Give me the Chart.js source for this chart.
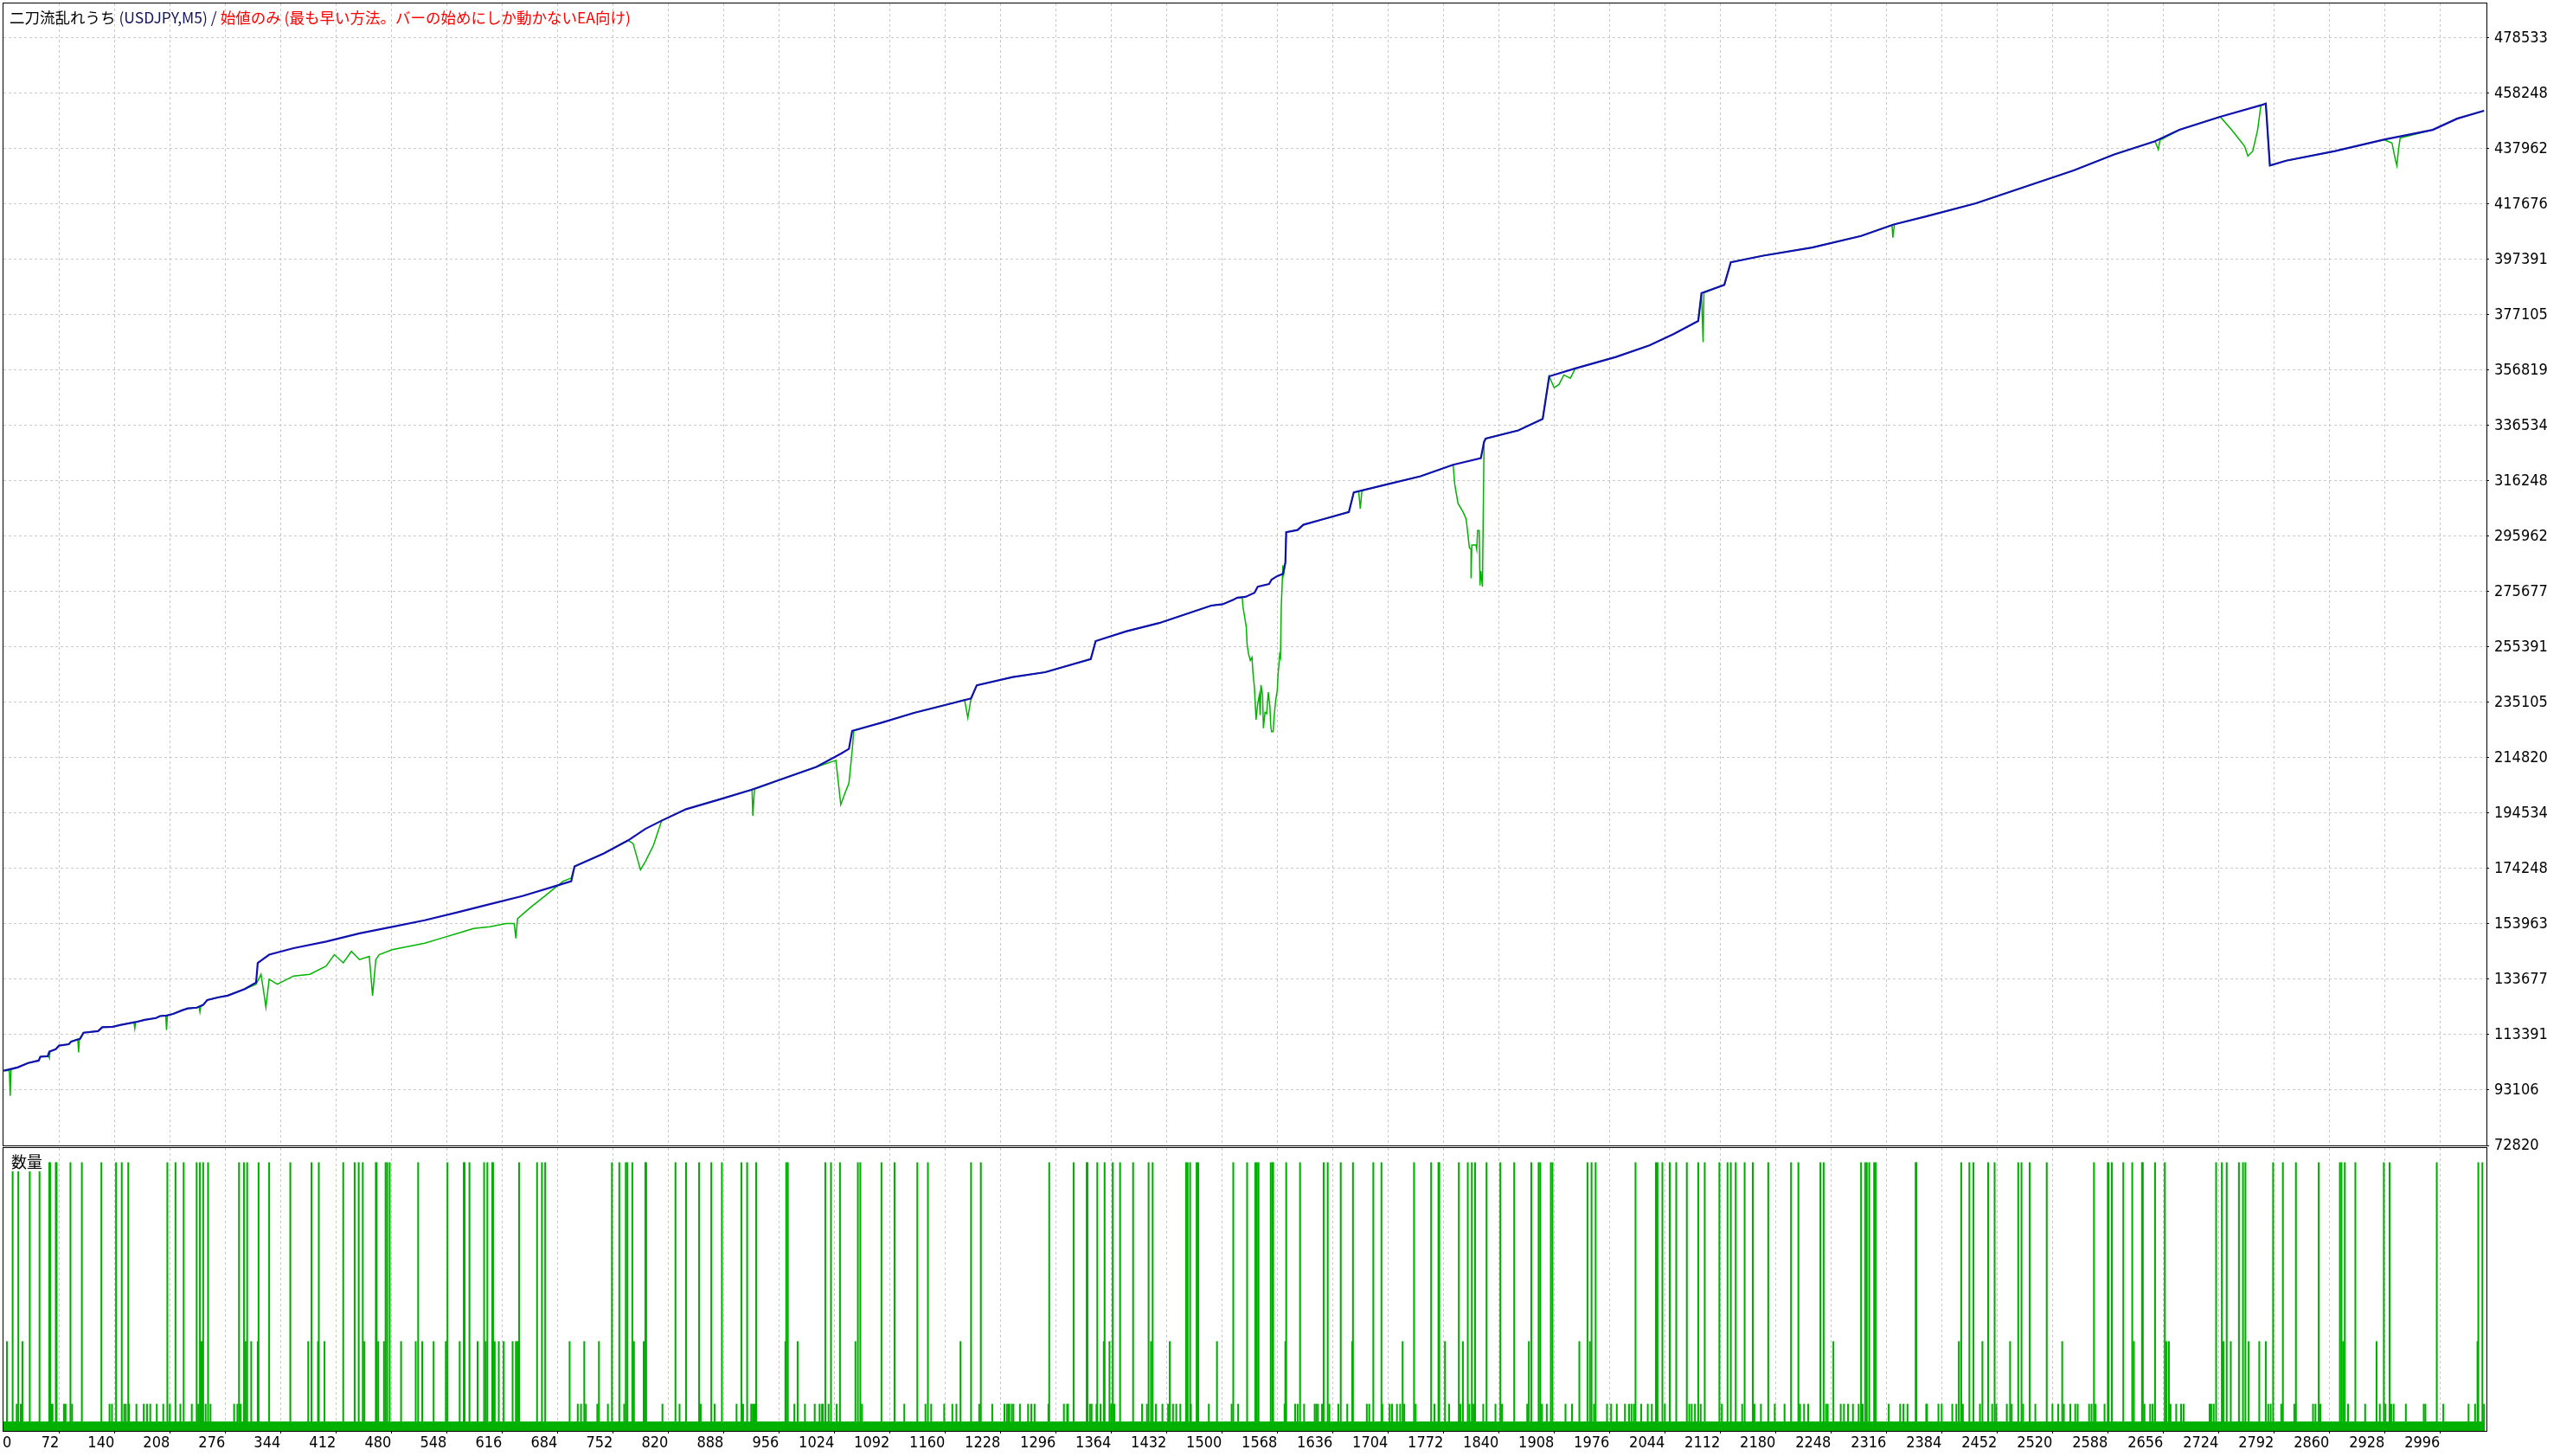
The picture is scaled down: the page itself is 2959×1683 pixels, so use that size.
<!DOCTYPE html>
<html><head><meta charset="utf-8">
<script src="https://cdn.jsdelivr.net/npm/chart.js@4.4.0/dist/chart.umd.min.js"></script>
<style>
html,body{margin:0;padding:0;background:#fff;}
#wrap{position:relative;width:2959px;height:1683px;overflow:hidden;background:#fff;}
canvas{position:absolute;left:0;top:0;}
#title{position:absolute;left:11px;top:10px;font-family:"Noto Sans CJK JP";font-size:17.5px;line-height:20px;white-space:nowrap;color:#000;}
#title .n{color:#14145a;} #title .r{color:#ff0000;}
#vlabel{position:absolute;left:13px;top:1332px;font-family:"Noto Sans CJK JP";font-size:18px;line-height:20px;color:#000;}
</style></head>
<body><div id="wrap">
<canvas id="main" width="2959" height="1683"></canvas>
<canvas id="vol" width="2959" height="1683"></canvas>
<div id="title">二刀流乱れうち <span class="n">(USDJPY,M5) /</span> <span class="r">始値のみ (最も早い方法。バーの始めにしか動かないEA向け)</span></div>
<div id="vlabel">数量</div>
</div>
<script>
// ---------------- data ----------------
const yTickLabels = ['72820','93106','113391','133677','153963','174248','194534','214820','235105','255391','275677','295962','316248','336534','356819','377105','397391','417676','437962','458248','478533'];
const xTickLabels = ['0','72','140','208','276','344','412','480','548','616','684','752','820','888','956','1024','1092','1160','1228','1296','1364','1432','1500','1568','1636','1704','1772','1840','1908','1976','2044','2112','2180','2248','2316','2384','2452','2520','2588','2656','2724','2792','2860','2928','2996'];

// balance: [trade no., balance]
const balanceSeries = [[4,100200],[21,101400],[34,103000],[47,103900],[49,105300],[58,105500],[60,107200],[68,108100],[72,109400],[84,109900],[87,110900],[98,111900],[102,114100],[120,114700],[125,116100],[138,116300],[148,117000],[166,118000],[177,118800],[191,119500],[196,120200],[204,120400],[212,121000],[223,122300],[230,123000],[241,123300],[249,124300],[254,126100],[268,127100],[279,127700],[300,130100],[314,132500],[316,139700],[330,142700],[360,145100],[400,147500],[441,150500],[481,152900],[521,155300],[561,158200],[601,161200],[641,164200],[681,167800],[701,169600],[705,175000],[741,179800],[771,184600],[792,188800],[812,191800],[842,196000],[882,199500],[922,203100],[962,207300],[1002,211500],[1032,216300],[1042,218100],[1046,224700],[1082,227700],[1122,231300],[1162,234300],[1192,236600],[1199,241400],[1243,244400],[1283,246200],[1339,251000],[1345,257600],[1383,261200],[1423,264200],[1487,270600],[1501,271100],[1514,272700],[1519,273500],[1529,273800],[1540,275300],[1544,277500],[1558,278500],[1561,280100],[1568,281400],[1575,282200],[1578,286400],[1579,297500],[1593,298300],[1600,300200],[1625,302300],[1656,304900],[1662,312100],[1704,315100],[1744,318000],[1784,322200],[1818,324600],[1822,330600],[1824,331800],[1864,334800],[1894,339000],[1902,354600],[1934,357500],[1984,361700],[2025,365900],[2055,370100],[2085,374900],[2089,385100],[2117,388100],[2125,396400],[2165,398800],[2225,401800],[2285,406000],[2325,410200],[2365,413200],[2426,418000],[2486,424000],[2546,430000],[2596,435900],[2646,440700],[2676,444900],[2726,449700],[2776,453900],[2782,454500],[2787,431800],[2807,433600],[2867,437100],[2927,441300],[2987,444900],[3017,449000],[3050,451900]];

// equity: [trade no., equity]
const equitySeries = [[4,100200],[11,100300],[12,91000],[13,100600],[21,101400],[34,103000],[47,103900],[49,105300],[58,105500],[59,105600],[60,104900],[61,107200],[68,108100],[72,109400],[84,109900],[87,110900],[95,111800],[96,106900],[97,111900],[102,114100],[120,114700],[125,116100],[138,116300],[148,117000],[164,117900],[165,115700],[166,118000],[177,118800],[191,119500],[196,120200],[203,120400],[204,115100],[205,120400],[212,121000],[223,122300],[230,123000],[241,123300],[244,123500],[245,121700],[246,123700],[249,124300],[254,126100],[268,127100],[279,127700],[300,130100],[314,131900],[320,135500],[324,127700],[326,123500],[330,133700],[340,131900],[360,134900],[380,135500],[400,138500],[410,142700],[421,139700],[431,143900],[441,140900],[453,142100],[457,127700],[461,140900],[465,142700],[481,144500],[501,145700],[521,146900],[541,148700],[561,150500],[581,152300],[601,152900],[621,154100],[631,154100],[633,148700],[635,155900],[651,160000],[671,164800],[691,169600],[701,170800],[705,175000],[741,179800],[771,184600],[777,183400],[786,173800],[792,176800],[802,182800],[812,191800],[842,196000],[882,199500],[922,203100],[923,203200],[924,193600],[926,203300],[962,207300],[1002,211500],[1026,213900],[1028,208500],[1032,197700],[1038,202500],[1042,205500],[1046,217500],[1048,224700],[1082,227700],[1122,231300],[1162,234300],[1184,236100],[1188,229500],[1192,236600],[1199,241400],[1243,244400],[1283,246200],[1339,251000],[1345,257600],[1383,261200],[1423,264200],[1487,270600],[1501,271100],[1514,272700],[1519,273500],[1525,273500],[1526,270000],[1528,266400],[1530,262700],[1531,256300],[1533,252600],[1535,250500],[1537,251600],[1538,246800],[1540,240500],[1542,228800],[1544,234700],[1546,237800],[1547,230400],[1548,241500],[1550,237800],[1551,225700],[1553,231500],[1555,231000],[1557,238900],[1559,233600],[1560,226700],[1561,224400],[1563,224400],[1564,229400],[1566,235700],[1568,239400],[1569,245200],[1571,252600],[1572,251600],[1573,270600],[1575,285400],[1576,282200],[1578,286400],[1579,297500],[1593,298300],[1600,300200],[1625,302300],[1656,304900],[1662,312100],[1668,312500],[1670,306100],[1672,312700],[1704,315100],[1744,318000],[1784,322200],[1786,315000],[1790,308000],[1796,305000],[1800,302300],[1804,291700],[1806,291200],[1806,280600],[1807,292800],[1812,292800],[1813,291200],[1814,298100],[1816,298100],[1817,278000],[1818,283300],[1820,277500],[1822,330600],[1824,331800],[1864,334800],[1894,339000],[1902,354600],[1908,350400],[1914,351600],[1920,355100],[1928,353900],[1934,357500],[1984,361700],[2025,365900],[2055,370100],[2085,374900],[2089,385100],[2091,367100],[2092,385200],[2117,388100],[2125,396400],[2165,398800],[2225,401800],[2285,406000],[2323,410000],[2324,405400],[2326,410300],[2365,413200],[2426,418000],[2486,424000],[2546,430000],[2596,435900],[2646,440700],[2650,437700],[2652,441100],[2676,444900],[2726,449700],[2740,444900],[2748,441900],[2756,438900],[2760,435300],[2766,437100],[2772,444900],[2776,453900],[2782,454500],[2787,431800],[2807,433600],[2867,437100],[2927,441300],[2937,440100],[2941,434100],[2943,431800],[2945,437700],[2947,441900],[2987,444900],[3017,449000],[3050,451900]];

// volume (lots) per trade
const tradeCount = 3051;
const baseLot = 0.01;
const lot003Trades = [20,25,63,64,78,80,88,134,137,152,154,158,167,176,180,184,192,200,208,221,235,243,252,258,287,291,295,709,713,719,733,746,766,813,834,860,877,904,912,922,924,926,975,988,1000,1006,1009,1010,1017,1027,1058,1110,1136,1143,1159,1169,1174,1202,1218,1233,1236,1238,1239,1242,1244,1252,1262,1266,1270,1287,1306,1310,1311,1338,1340,1346,1351,1364,1368,1402,1408,1419,1427,1434,1440,1444,1449,1462,1484,1512,1520,1577,1590,1593,1601,1614,1616,1618,1623,1632,1643,1654,1678,1681,1697,1706,1709,1715,1719,1724,1738,1761,1779,1793,1804,1809,1821,1836,1844,1875,1893,1899,1922,1930,1957,1973,1978,1985,1995,2000,2003,2006,2015,2023,2028,2044,2074,2077,2081,2088,2114,2139,2154,2162,2179,2191,2210,2215,2220,2242,2244,2260,2264,2269,2275,2282,2287,2319,2333,2337,2342,2365,2366,2380,2384,2397,2402,2410,2431,2446,2451,2464,2470,2484,2499,2520,2527,2534,2542,2548,2551,2565,2568,2573,2584,2633,2640,2643,2665,2672,2678,2681,2713,2715,2718,2785,2788,2801,2817,2840,2843,2849,2883,2904,2922,2929,2936,2939,2954,2976,2978,3000,3031,3039,3050];
const lot01Trades = [8,27,247,301,308,316,378,390,398,447,464,471,492,510,518,532,547,564,586,596,607,612,618,629,633,635,699,717,735,778,790,964,979,1050,1179,1355,1362,1413,1436,1494,1578,1660,1722,1774,1796,1877,1939,1952,2251,2405,2434,2468,2532,2620,2660,2663,2730,2739,2761,2774,2782,2877,2918,3042];
const lot029Trades = [15,22,36,48];
const lot03Trades = [60,61,68,69,86,100,124,142,149,157,205,215,225,241,245,249,255,293,299,303,317,330,356,382,391,421,435,440,445,461,462,473,475,478,513,549,569,570,576,594,598,604,605,637,659,665,669,751,760,768,770,776,792,793,829,842,858,873,886,910,917,928,965,967,1013,1020,1031,1053,1056,1082,1098,1126,1139,1192,1204,1288,1318,1334,1335,1347,1356,1366,1375,1391,1410,1415,1456,1458,1461,1469,1471,1514,1531,1541,1543,1545,1560,1562,1563,1579,1596,1625,1630,1646,1661,1686,1696,1736,1757,1766,1767,1791,1802,1807,1811,1825,1842,1859,1880,1889,1891,1904,1906,1949,1954,1959,2008,2033,2035,2041,2050,2058,2071,2085,2093,2111,2121,2125,2131,2142,2152,2171,2199,2208,2235,2239,2285,2290,2292,2295,2301,2303,2352,2353,2408,2418,2423,2441,2449,2478,2482,2492,2513,2571,2588,2589,2593,2607,2618,2630,2631,2646,2658,2721,2728,2734,2749,2754,2757,2791,2803,2819,2847,2873,2875,2879,2892,2927,2934,2992,3043,3048];

// ---------------- build ----------------
const volume = Array.from({length: tradeCount}, () => baseLot);
lot003Trades.forEach(i => volume[i] = 0.03);
lot01Trades.forEach(i => volume[i] = 0.1);
lot029Trades.forEach(i => volume[i] = 0.29);
lot03Trades.forEach(i => volume[i] = 0.3);
const volumePts = volume.map((v, i) => ({x: i, y: v}));
const balancePts = balanceSeries.map(p => ({x: p[0], y: p[1]}));
const equityPts = equitySeries.map(p => ({x: p[0], y: p[1]}));

const X_MIN = 3.72, X_MAX = 3053;
const gridValues = xTickLabels.slice(1).map(Number);
const GRID = '#c8c8c8';
const FONT = {family: 'DejaVu Sans Condensed', size: 18};

const framePlugin = {
  id: 'frame',
  afterDraw(chart) {
    const {ctx, chartArea: a} = chart;
    ctx.save();
    ctx.strokeStyle = '#000'; ctx.lineWidth = 1;
    ctx.strokeRect(a.left - 0.5, a.top - 0.5, a.right - a.left + 1, a.bottom - a.top + 1);
    ctx.restore();
  }
};

Chart.defaults.font.family = 'DejaVu Sans Condensed';

new Chart(document.getElementById('main'), {
  type: 'line',
  data: {datasets: [
    {label: '残高', data: balancePts, borderColor: '#1010b0', borderWidth: 2.2, pointRadius: 0, tension: 0, fill: false},
    {label: '有効証拠金', data: equityPts, borderColor: '#00b400', borderWidth: 1.5, pointRadius: 0, tension: 0, fill: false}
  ]},
  options: {
    responsive: false, animation: false, devicePixelRatio: 1,
    layout: {padding: {left: 4, top: 4, right: 0, bottom: 339}},
    plugins: {legend: {display: false}, tooltip: {enabled: false}},
    scales: {
      x: {
        type: 'linear', min: X_MIN, max: X_MAX, offset: false,
        afterBuildTicks: s => { s.ticks = gridValues.map(v => ({value: v})); },
        ticks: {display: false},
        grid: {color: GRID, drawTicks: false, offset: false},
        border: {display: false, dash: [3, 3]},
        afterFit: s => { s.height = 20; s.paddingLeft = 0; s.paddingRight = 0; }
      },
      y: {
        type: 'linear', position: 'right', min: 72820, max: 491200,
        afterBuildTicks: s => { s.ticks = yTickLabels.map(l => ({value: Number(l)})); },
        ticks: {font: FONT, color: '#000', padding: 6, autoSkip: false, callback: (v, i) => yTickLabels[i]},
        grid: {color: GRID, tickColor: '#000', tickLength: 3, tickBorderDash: [], tickWidth: 1},
        border: {display: false, dash: [3, 3]},
        afterFit: s => { s.width = 85; s.paddingTop = 0; s.paddingBottom = 0; }
      }
    }
  },
  plugins: [framePlugin]
});

new Chart(document.getElementById('vol'), {
  type: 'bar',
  data: {datasets: [{label: '数量', data: volumePts, backgroundColor: '#00b000', borderWidth: 0, barThickness: 1.4}]},
  options: {
    responsive: false, animation: false, devicePixelRatio: 1,
    layout: {padding: {left: 4, top: 1327, right: 85, bottom: 0}},
    plugins: {legend: {display: false}, tooltip: {enabled: false}},
    scales: {
      x: {
        type: 'linear', min: X_MIN, max: X_MAX, offset: false,
        afterBuildTicks: s => { s.ticks = [{value: s.min + 10}].concat(gridValues.map(v => ({value: v}))); },
        ticks: {font: FONT, color: '#000', align: 'end', padding: 1, autoSkip: false, maxRotation: 0, minRotation: 0, callback: (v, i) => xTickLabels[i]},
        grid: {
          offset: false,
          color: c => c.index === 0 ? 'rgba(0,0,0,0)' : GRID,
          tickColor: c => c.index === 0 ? 'rgba(0,0,0,0)' : '#000',
          tickLength: 3, tickWidth: 1, tickBorderDash: []
        },
        border: {display: false, dash: [3, 3]},
        afterFit: s => { s.height = 29; s.paddingLeft = 0; s.paddingRight = 0; }
      },
      y: {display: false, min: 0, max: 0.3164}
    }
  },
  plugins: [framePlugin]
});
</script>
</body></html>
